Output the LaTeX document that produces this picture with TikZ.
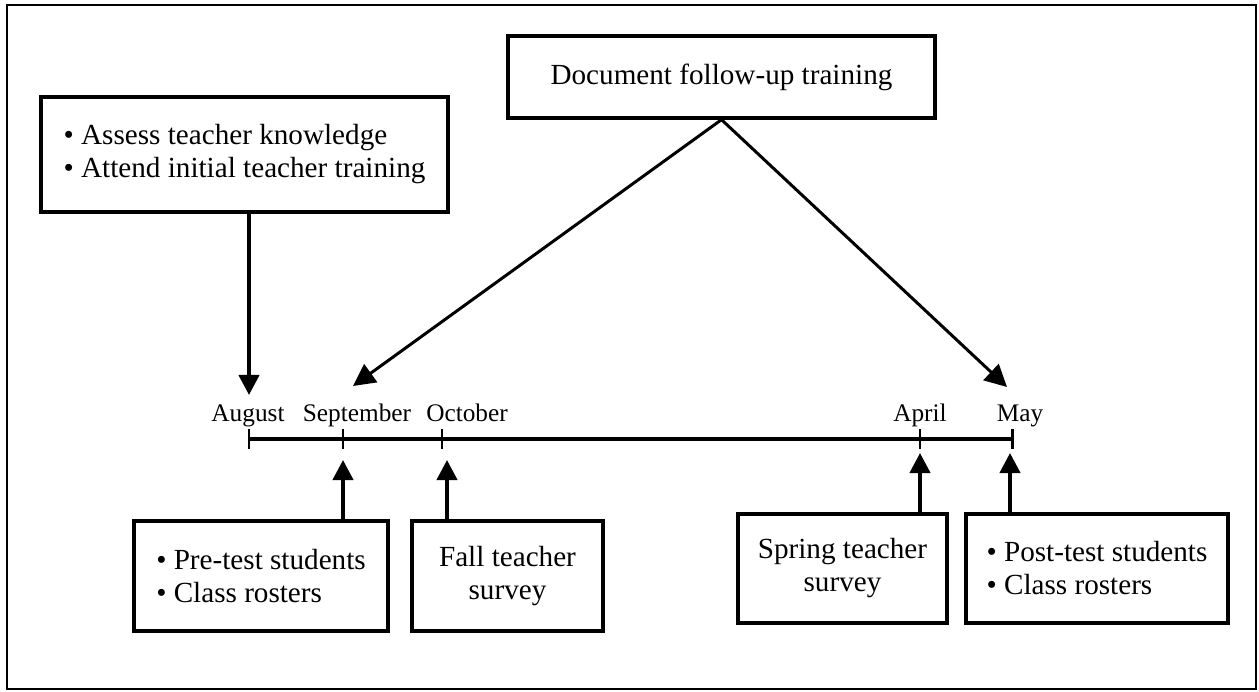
\documentclass[tikz,border=0pt]{standalone}
\usepackage{fontspec}
\setmainfont{Liberation Serif}
\usetikzlibrary{shapes,arrows.meta,positioning,calc}

\begin{document}
\begin{tikzpicture}[x=0.02cm,y=-0.02cm,
  box/.style={draw,line width=1.9pt,inner sep=0pt,font=\fontsize{16.6}{18.8}\selectfont},
  month/.style={anchor=base,inner sep=0pt,font=\fontsize{14.4}{16}\selectfont},
  up/.style={line width=2.3pt,-{Triangle[length=11.4pt,width=11.4pt]}},
  slant/.style={line width=1.7pt,-{Triangle[length=12.5pt,width=12.5pt]}}]
  \useasboundingbox (0,0) rectangle (1259,692);
  \draw[line width=1.1pt] (7,5) rectangle (1256,689);

  \node[box,minimum width=8.54cm,minimum height=1.64cm] (doc) at (721.5,77) {Document follow-up training};
  \node[box,align=left,minimum width=8.14cm,minimum height=2.3cm] (assess) at (244.5,154.5)
    {\textbullet\ Assess teacher knowledge\\\textbullet\ Attend initial teacher training};

  \coordinate (aug) at (249,439);
  \coordinate (sep) at (343,439);
  \coordinate (oct) at (442,439);
  \coordinate (apr) at (920,439);
  \coordinate (may) at (1012,439);
  \draw[line width=1.9pt] (aug) -- (may);
  \foreach \m in {aug,sep,oct,apr,may}
    \draw[line width=1.7pt] ($(\m)+(0,-10)$) -- ($(\m)+(0,10)$);

  \node[month] (auglab) at (248,422) {August};
  \node[month] (seplab) at (357,422) {September};
  \node[month] (octlab) at (467,422) {October};
  \node[month] (aprlab) at (920,422) {April};
  \node[month] (maylab) at (1020,422) {May};

  \draw[up] (assess.south -| aug) -- ($(aug)+(0,-44)$);
  \coordinate (septip) at (353,386);
  \coordinate (maytip) at (1007,387);
  \draw[slant] (doc.south) -- (septip);
  \draw[slant] (doc.south) -- (maytip);

  \node[box,align=left,minimum width=5.08cm,minimum height=2.2cm] (pretest) at (261,576)
    {\textbullet\ Pre-test students\\\textbullet\ Class rosters};
  \node[box,align=center,minimum width=3.82cm,minimum height=2.2cm] (fall) at (507.5,576)
    {Fall teacher\\survey};
  \node[box,align=center,minimum width=4.18cm,minimum height=2.18cm] (spring) at (842.5,568.5)
    {Spring teacher\\survey};
  \node[box,align=left,minimum width=5.24cm,minimum height=2.18cm] (posttest) at (1097,568.5)
    {\textbullet\ Post-test students\\\textbullet\ Class rosters};

  \draw[up] (pretest.north -| sep) -- ($(sep)+(0,21)$);
  \draw[up] ($(fall.north -| oct)+(5,0)$) -- ($(oct)+(5,21)$);
  \draw[up] (spring.north -| apr) -- ($(apr)+(0,14)$);
  \draw[up] ($(posttest.north -| may)+(-2,0)$) -- ($(may)+(-2,14)$);
\end{tikzpicture}
\end{document}
